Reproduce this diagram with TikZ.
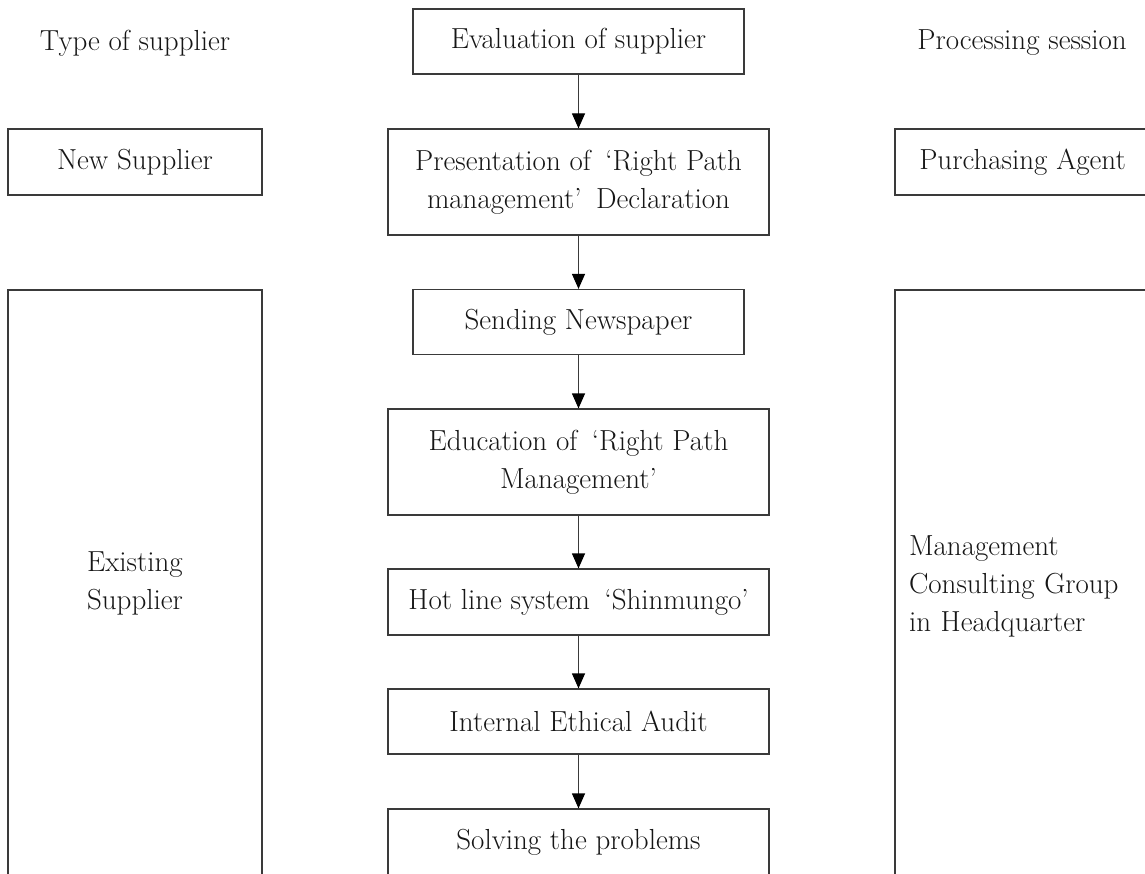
\documentclass[tikz,border=0pt]{standalone}
\usepackage{fontspec}
\usetikzlibrary{arrows.meta}
\definecolor{edge}{HTML}{3A3A3A}
\definecolor{txt}{HTML}{161616}
\begin{document}
\begin{tikzpicture}[x=1pt,y=-1pt,
  font=\fontsize{29}{38}\selectfont,
  every node/.style={text=txt},
  box/.style={draw=edge, line width=1.2pt, inner sep=0pt, align=center},
  arr/.style={draw=edge, line width=1.2pt, -{Triangle[length=15pt,width=13pt,color=black]}}]
\path[use as bounding box] (0,0) rectangle (1145,874);
\clip (0,0) rectangle (1145,874);
% headers
\node (t1) at (135,43) {Type of supplier};
\node (t2) at (1022,43) {Processing session};
% centre column
\node[box, minimum width=331pt, minimum height=65pt] (eval) at (578.5,41.5) {Evaluation of supplier};
\node[box, minimum width=381pt, minimum height=106pt] (pres) at (578.5,182) {Presentation of\enspace‘Right Path\\management’\enspace Declaration};
\node[box, minimum width=331pt, minimum height=65pt] (news) at (578.5,322) {Sending Newspaper};
\node[box, minimum width=381pt, minimum height=106pt] (edu) at (578.5,462) {Education of\enspace‘Right Path\\Management’};
\node[box, minimum width=381pt, minimum height=66pt] (hot) at (578.5,602) {Hot line system\enspace‘Shinmungo’};
\node[box, minimum width=381pt, minimum height=65pt] (audit) at (578.5,721.5) {Internal Ethical Audit};
\node[box, minimum width=381pt, minimum height=66pt] (solve) at (578.5,842) {Solving the problems};
% left column
\node[box, minimum width=254pt, minimum height=66pt] (new) at (135,162) {New Supplier};
\node[box, minimum width=254pt, minimum height=586pt] (exist) at (135,583) {Existing\\Supplier};
% right column
\node[box, minimum width=255pt, minimum height=66pt] (agent) at (1022.5,162) {Purchasing Agent};
\node[box, minimum width=255pt, minimum height=592pt, text width=227pt, align=left] (mcg) at (1022.5,586) {Management\\Consulting Group\\in Headquarter};
% arrows
\draw[arr] (eval) -- (pres);
\draw[arr] (pres) -- (news);
\draw[arr] (news) -- (edu);
\draw[arr] (edu) -- (hot);
\draw[arr] (hot) -- (audit);
\draw[arr] (audit) -- (solve);
\end{tikzpicture}
\end{document}
